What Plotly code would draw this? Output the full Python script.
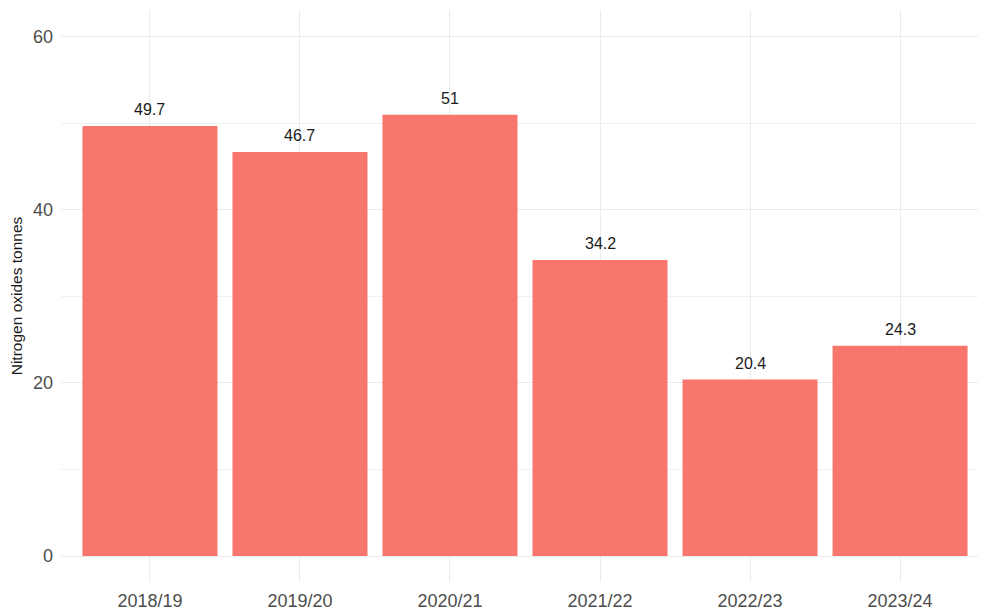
import plotly.graph_objects as go

years = ["2018/19", "2019/20", "2020/21", "2021/22", "2022/23", "2023/24"]
nox_tonnes = [49.7, 46.7, 51, 34.2, 20.4, 24.3]
label_text = ["49.7", "46.7", "51", "34.2", "20.4", "24.3"]
y_ticks = [0, 20, 40, 60]

fig = go.Figure()
fig.add_trace(go.Bar(
    x=years, y=nox_tonnes, width=0.9,
    marker=dict(color="#F8766D", line=dict(width=0)),
    hoverinfo="x+y",
))

for yr, v, t in zip(years, nox_tonnes, label_text):
    fig.add_annotation(
        x=yr, y=v, text=t, showarrow=False, yanchor="bottom",
        yshift=6, font=dict(family="Liberation Sans, Arial, sans-serif", size=16, color="#1a1a1a"),
    )

fig.update_layout(
    width=978, height=608,
    paper_bgcolor="white", plot_bgcolor="white",
    margin=dict(l=53, r=0, t=2, b=34),
    showlegend=False,
    font=dict(family="Liberation Sans, Arial, sans-serif", color="#4d4d4d"),
    bargap=0.1,
)
fig.update_xaxes(
    range=[-0.593, 5.573], showgrid=True, gridcolor="#ebebeb", gridwidth=1.2,
    showline=False, zeroline=False, ticks="", tickfont=dict(size=18, color="#4d4d4d"),
    ticklabelstandoff=6,
)
fig.update_yaxes(
    range=[-3.0, 63.1], tickvals=y_ticks, showgrid=True, gridcolor="#ebebeb", gridwidth=1.2,
    minor=dict(dtick=10, showgrid=True, gridcolor="#f0f0f0", gridwidth=0.7),
    showline=False, zeroline=False, ticks="", tickfont=dict(size=18, color="#4d4d4d"),
    ticklabelstandoff=7,
    title=dict(text="Nitrogen oxides tonnes", font=dict(size=15.5, color="#1a1a1a"), standoff=6),
)

fig.write_html("out.html")
